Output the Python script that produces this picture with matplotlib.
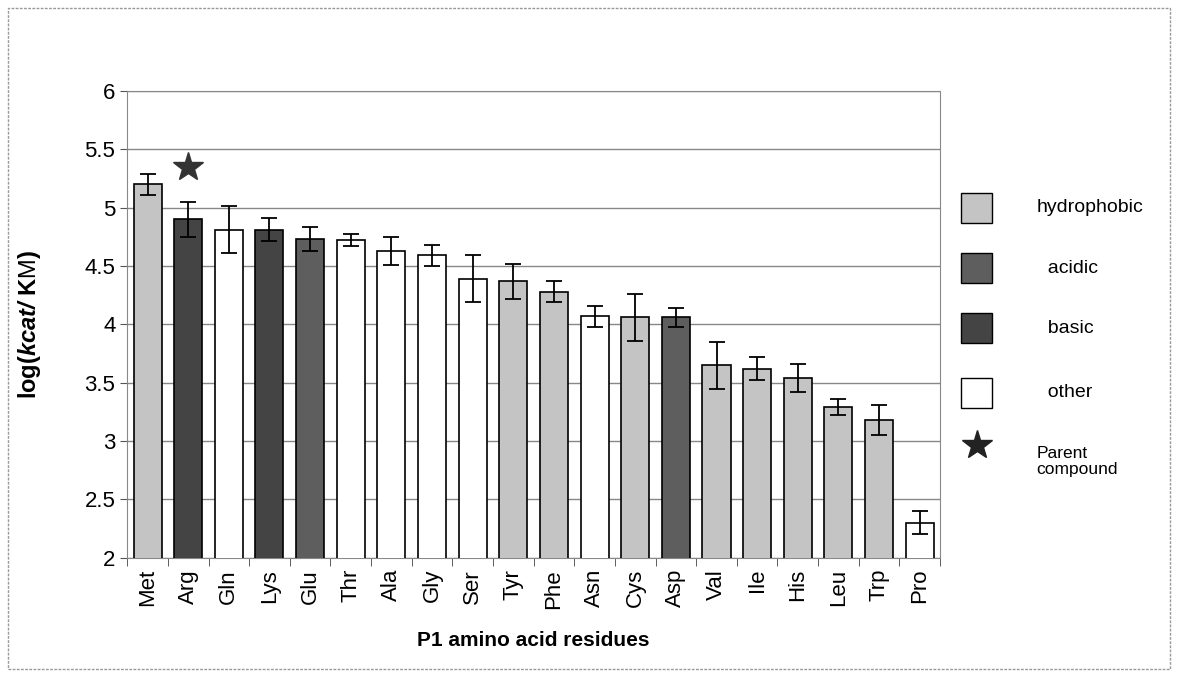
import matplotlib.pyplot as plt
from matplotlib.patches import Rectangle
from matplotlib.lines import Line2D

plt.rcParams["font.family"] = ["Liberation Sans", "DejaVu Sans"]
plt.rcParams["mathtext.fontset"] = "custom"
plt.rcParams["mathtext.rm"] = "Liberation Sans"
plt.rcParams["mathtext.it"] = "Liberation Sans:italic"
plt.rcParams["mathtext.bf"] = "Liberation Sans:bold"
plt.rcParams["mathtext.bfit"] = "Liberation Sans:italic:bold"

residues = ["Met", "Arg", "Gln", "Lys", "Glu", "Thr", "Ala", "Gly", "Ser", "Tyr",
            "Phe", "Asn", "Cys", "Asp", "Val", "Ile", "His", "Leu", "Trp", "Pro"]
values = [5.20, 4.90, 4.81, 4.81, 4.73, 4.72, 4.63, 4.59, 4.39, 4.37,
          4.28, 4.07, 4.06, 4.06, 3.65, 3.62, 3.54, 3.29, 3.18, 2.30]
errors = [0.09, 0.15, 0.20, 0.10, 0.10, 0.05, 0.12, 0.09, 0.20, 0.15,
          0.09, 0.09, 0.20, 0.08, 0.20, 0.10, 0.12, 0.07, 0.13, 0.10]
groups = ["hydrophobic", "basic", "other", "basic", "acidic", "other", "other", "other", "other", "hydrophobic",
          "hydrophobic", "other", "hydrophobic", "acidic", "hydrophobic", "hydrophobic", "hydrophobic",
          "hydrophobic", "hydrophobic", "other"]
group_names = ["hydrophobic", "acidic", "basic", "other"]
group_colors = {"hydrophobic": "#c4c4c4", "acidic": "#5e5e5e", "basic": "#444444", "other": "white"}
parent = "Arg"
parent_y = 5.35

fig = plt.figure(figsize=(11.78, 6.77), dpi=100)
ax = fig.add_axes([0.108, 0.176, 0.690, 0.690])

x = range(len(residues))
ax.bar(x, values, width=0.69, color=[group_colors[g] for g in groups],
       edgecolor="black", linewidth=1.2, zorder=3)
ax.errorbar(x, values, yerr=errors, fmt="none", ecolor="black",
            elinewidth=1.3, capsize=6, capthick=1.3, zorder=4)
ax.plot(residues.index(parent), parent_y, marker="*", markersize=22,
        color="#333333", linestyle="none", zorder=5)

ax.set_xlim(-0.5, len(residues) - 0.5)
ax.set_ylim(2, 6)
ax.set_yticks([2, 2.5, 3, 3.5, 4, 4.5, 5, 5.5, 6])
ax.set_yticklabels(["2", "2.5", "3", "3.5", "4", "4.5", "5", "5.5", "6"])
ax.set_xticks(list(x))
ax.set_xticklabels(residues, rotation=90)
ax.set_xticks([i - 0.5 for i in range(len(residues) + 1)], minor=True)
ax.tick_params(axis="x", which="major", length=0, pad=8, labelsize=16)
ax.tick_params(axis="x", which="minor", length=6, color="#444444")
ax.tick_params(axis="y", direction="out", length=5, color="#555555", labelsize=16)
ax.yaxis.grid(True, color="#888888", linewidth=1, zorder=0)
ax.set_axisbelow(True)
for s in ax.spines.values():
    s.set_color("#888888")
    s.set_linestyle((0, (2, 1)))

ax.set_ylabel(r"log($\mathbfit{kcat/}$ K$\mathrm{M}$)", fontsize=17, fontweight="bold", labelpad=30)
ax.set_xlabel("P1 amino acid residues", fontsize=15, fontweight="bold", labelpad=16)

# legend drawn on the right
leg_y = [0.693, 0.604, 0.515, 0.420]
for name, yy in zip(group_names, leg_y):
    fig.patches.append(Rectangle((0.816, yy - 0.022), 0.026, 0.044, transform=fig.transFigure,
                                 facecolor=group_colors[name], edgecolor="black", linewidth=1))
    lab = name if name == "hydrophobic" else "  " + name
    fig.text(0.880, yy, lab, fontsize=14, va="center", ha="left")
fig.lines.append(Line2D([0.829], [0.342], marker="*", markersize=22, color="#222222",
                        transform=fig.transFigure))
fig.text(0.880, 0.318, "Parent\ncompound", fontsize=12.5, va="center", ha="left", linespacing=1.1)

fig.patches.append(Rectangle((0.007, 0.012), 0.986, 0.976, transform=fig.transFigure,
                             facecolor="none", edgecolor="#999999", linewidth=1, linestyle=(0, (2, 1))))

fig.savefig("out.png", dpi=100)
